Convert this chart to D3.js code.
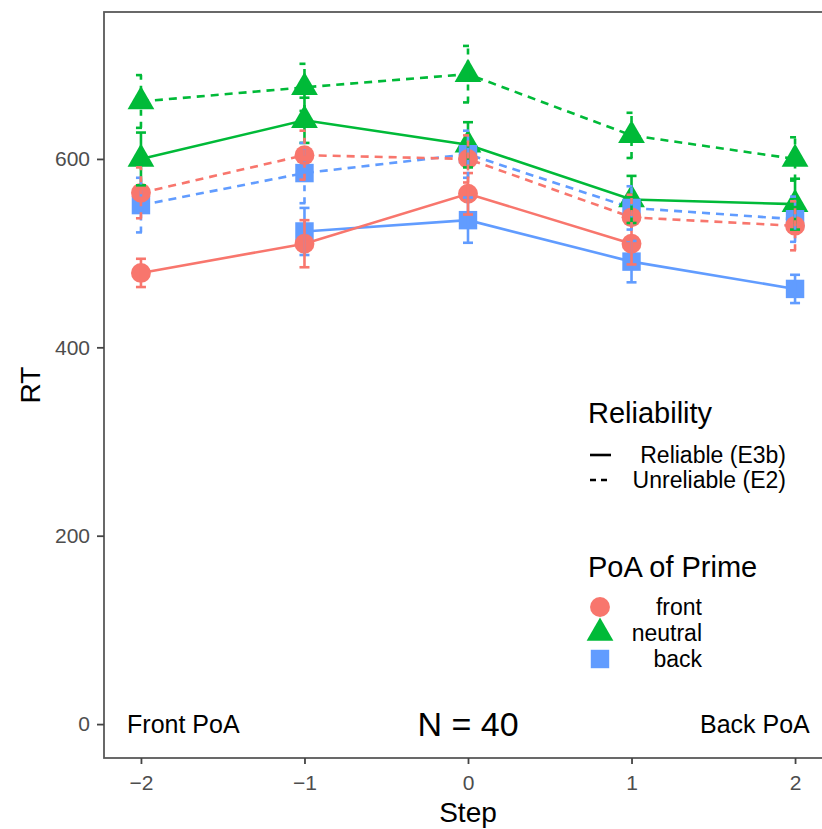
<!DOCTYPE html>
<html>
<head>
<meta charset="utf-8">
<script src="https://cdn.jsdelivr.net/npm/d3@7"></script>
<style>
  body { margin: 0; background: #fff; }
  svg { display: block; font-family: "Liberation Sans", Arial, sans-serif; }
</style>
</head>
<body>
<svg id="chart" width="822" height="829"></svg>
<script>
// steps on the x axis
const steps = [-2, -1, 0, 1, 2];
const primes = ["front", "neutral", "back"];
const reliabilities = ["Reliable (E3b)", "Unreliable (E2)"];

// mean RT per step (null = no point)
const reliableFront   = [479, 510, 563, 510, null];
const reliableNeutral = [600, 641, 615, 557, 552];
const reliableBack    = [null, 523, 535, 491, 462];
const unreliableFront   = [564, 604, 600, 538, 529];
const unreliableNeutral = [661, 676, 690, 625, 600];
const unreliableBack    = [551, 585, 605, 548, 536];

// error bar half-widths
const reliableFrontSe   = [15, 25, 22, 22, null];
const reliableNeutralSe = [28, 24, 24, 25, 27];
const reliableBackSe    = [null, 25, 24, 22, 15];
const unreliableFrontSe   = [27, 26, 25, 24, 26];
const unreliableNeutralSe = [28, 25, 30, 24, 23];
const unreliableBackSe    = [29, 32, 25, 23, 24];

const yTicks = [0, 200, 400, 600];

const colors = {front: "#F8766D", neutral: "#00BA38", back: "#619CFF"};
const shapes = {front: d3.symbolCircle, neutral: d3.symbolTriangle, back: d3.symbolSquare};
const sizes = {front: 310, neutral: 310, back: 340};

// build series
const series = [
  {prime: "back", rel: 0, vals: reliableBack, se: reliableBackSe},
  {prime: "front", rel: 0, vals: reliableFront, se: reliableFrontSe},
  {prime: "neutral", rel: 0, vals: reliableNeutral, se: reliableNeutralSe},
  {prime: "back", rel: 1, vals: unreliableBack, se: unreliableBackSe},
  {prime: "front", rel: 1, vals: unreliableFront, se: unreliableFrontSe},
  {prime: "neutral", rel: 1, vals: unreliableNeutral, se: unreliableNeutralSe}
].map(s => ({...s, points: steps.map((x, i) => ({x: x, y: s.vals[i], se: s.se[i]})).filter(p => p.y != null)}));

const margin = {top: 12, left: 104, bottom: 71};
const svg = d3.select("#chart");
const height = 829 - margin.top - margin.bottom;
const width = 728;

const x = d3.scaleLinear().domain([-2.226, 2.226]).range([0, width]);
const y = d3.scaleLinear().domain([-36, 756]).range([height, 0]);

const g = svg.append("g").attr("transform", `translate(${margin.left},${margin.top})`);

// panel border
g.append("rect")
  .attr("width", width).attr("height", height)
  .attr("fill", "none").attr("stroke", "#595959").attr("stroke-width", 1.8);

// axes
const yAxis = g.append("g").call(d3.axisLeft(y).tickValues(yTicks).tickSize(7).tickPadding(7));
const xAxis = g.append("g").attr("transform", `translate(0,${height})`)
  .call(d3.axisBottom(x).tickValues(steps).tickSize(6).tickPadding(11).tickFormat(d => d < 0 ? "\u2212" + Math.abs(d) : d));
[xAxis, yAxis].forEach(a => {
  a.select(".domain").remove();
  a.selectAll(".tick line").attr("stroke", "#444").attr("stroke-width", 1.8);
  a.selectAll(".tick text").attr("fill", "#4D4D4D").style("font-size", "21px");
});

svg.append("text").attr("x", 468).attr("y", 822).attr("text-anchor", "middle")
  .style("font-size", "28px").text("Step");
svg.append("text").attr("transform", "translate(40,385) rotate(-90)").attr("text-anchor", "middle")
  .style("font-size", "28px").text("RT");

// annotations at y = 0
g.append("text").attr("x", x(-2.085)).attr("y", y(0)).attr("dy", "0.35em")
  .style("font-size", "25px").text("Front PoA");
g.append("text").attr("x", x(0)).attr("y", y(0)).attr("dy", "0.35em").attr("text-anchor", "middle")
  .style("font-size", "34px").text("N = 40");
g.append("text").attr("x", x(2.09)).attr("y", y(0)).attr("dy", "0.35em").attr("text-anchor", "end")
  .style("font-size", "25px").text("Back PoA");

const dash = "8,6";
const line = d3.line().x(d => x(d.x)).y(d => y(d.y));

// lines
g.selectAll(".series-line").data(series).join("path")
  .attr("class", "series-line")
  .attr("d", d => line(d.points))
  .attr("fill", "none")
  .attr("stroke", d => colors[d.prime])
  .attr("stroke-width", 2.6)
  .attr("stroke-dasharray", d => d.rel ? dash : null);

// points
series.forEach(s => {
  g.selectAll(null).data(s.points).join("path")
    .attr("transform", d => `translate(${x(d.x)},${y(d.y)})`)
    .attr("d", d3.symbol(shapes[s.prime], sizes[s.prime]))
    .attr("fill", colors[s.prime]);
});

// error bars
const cap = 5;
series.forEach(s => {
  const eb = g.selectAll(null).data(s.points).join("g")
    .attr("stroke", colors[s.prime]).attr("stroke-width", 2.6)
    .attr("stroke-dasharray", s.rel ? "6,6" : null);
  eb.append("line")
    .attr("x1", d => x(d.x)).attr("x2", d => x(d.x))
    .attr("y1", d => y(d.y - d.se)).attr("y2", d => y(d.y + d.se));
  eb.append("line")
    .attr("x1", d => x(d.x) - cap).attr("x2", d => x(d.x) + cap)
    .attr("y1", d => y(d.y + d.se)).attr("y2", d => y(d.y + d.se));
  eb.append("line")
    .attr("x1", d => x(d.x) - cap).attr("x2", d => x(d.x) + cap)
    .attr("y1", d => y(d.y - d.se)).attr("y2", d => y(d.y - d.se));
});

// legends
const leg = svg.append("g");
leg.append("text").attr("x", 588).attr("y", 423).style("font-size", "29px").text("Reliability");
reliabilities.forEach((r, i) => {
  const yy = 455 + i * 25;
  leg.append("line").attr("x1", 590).attr("x2", 611).attr("y1", yy).attr("y2", yy)
    .attr("stroke", "#000").attr("stroke-width", 2.6)
    .attr("stroke-dasharray", i ? "6,5" : null);
  leg.append("text").attr("x", 786).attr("y", yy).attr("dy", "0.35em")
    .attr("text-anchor", "end").style("font-size", "23px").text(r);
});

leg.append("text").attr("x", 588).attr("y", 577).style("font-size", "29px").text("PoA of Prime");
primes.forEach((p, i) => {
  const yy = 607 + i * 26;
  leg.append("path").attr("transform", `translate(600,${yy})`)
    .attr("d", d3.symbol(shapes[p], sizes[p])).attr("fill", colors[p]);
  leg.append("text").attr("x", 702).attr("y", yy).attr("dy", "0.35em")
    .attr("text-anchor", "end").style("font-size", "23px").text(p);
});
</script>
</body>
</html>
